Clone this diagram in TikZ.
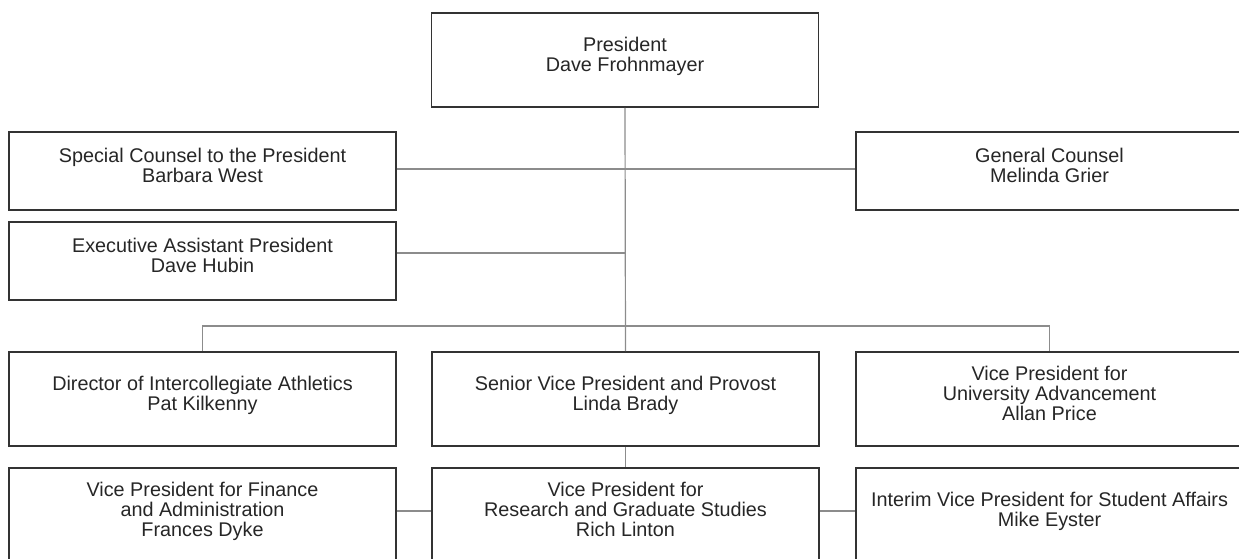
\documentclass[tikz,border=0pt]{standalone}
\usepackage{fontspec}
\setmainfont{Liberation Sans}
\definecolor{boxgray}{HTML}{333333}
\definecolor{linegray}{HTML}{8C8C8C}

\begin{document}
\begin{tikzpicture}[x=0.5pt, y=-0.5pt,
  office/.style={draw=boxgray, line width=0.85pt, minimum width=193.5pt, minimum height=47pt,
    align=center, text=black!85, text depth=5.5pt, font=\fontsize{9.9pt}{10pt}\selectfont},
  staff/.style={office, minimum height=39pt},
  link/.style={draw=linegray, line width=0.6pt}]
\useasboundingbox (0,0) rectangle (1239,558);
\clip (0,0) rectangle (1239,558);

% top level
\node[office] (president) at (625,60) {President\\Dave Frohnmayer};
\node[staff] (special) at (202.5,171) {Special Counsel to the President\\Barbara West};
\node[staff] (general) at (1049.5,171) {General Counsel\\Melinda Grier};
\node[staff] (assistant) at (202.5,261) {Executive Assistant President\\Dave Hubin};

% vice presidents
\node[office] (athletics) at (202.5,399) {Director of Intercollegiate Athletics\\Pat Kilkenny};
\node[office] (provost) at (625.5,399) {Senior Vice President and Provost\\Linda Brady};
\node[office] (advancement) at (1049.5,399) {Vice President for\\University Advancement\\Allan Price};
\node[office] (finance) at (202.5,515) {Vice President for Finance\\and Administration\\Frances Dyke};
\node[office] (research) at (625.5,515) {Vice President for\\Research and Graduate Studies\\Rich Linton};
\node[office] (students) at (1049.5,515) {Interim Vice President for Student Affairs\\Mike Eyster};

\coordinate (bus) at (625,326);

\draw[link] (president.south) -- (provost.north);
\draw[link] ([yshift=1pt]special.east) -- ([yshift=1pt]general.west);
\draw[link] ([yshift=4pt]assistant.east) -- ([yshift=4pt]assistant.east -| president.south);
\draw[link] (athletics.north) |- (bus) -| (advancement.north);
\draw[link] (provost.south) -- (research.north);
\draw[link] ([yshift=2pt]finance.east) -- ([yshift=2pt]research.west);
\draw[link] ([yshift=2pt]research.east) -- ([yshift=2pt]students.west);
\end{tikzpicture}
\end{document}
